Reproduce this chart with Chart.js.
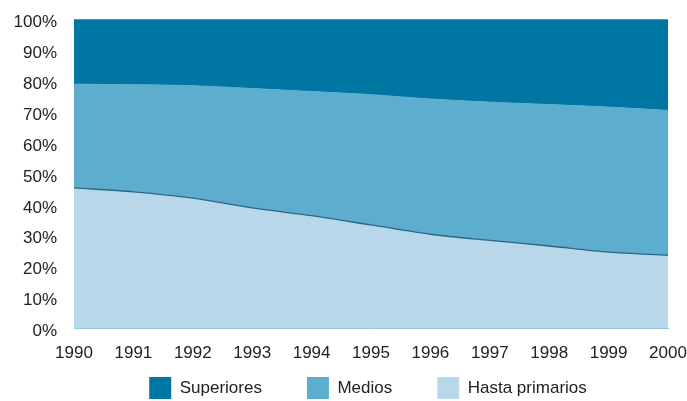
<!DOCTYPE html>
<html>
<head>
<meta charset="utf-8">
<script src="https://cdn.jsdelivr.net/npm/chart.js@4"></script>
<style>
  html, body { margin: 0; padding: 0; background: #fff; }
  #wrap { width: 687px; height: 401px; position: relative; }
</style>
</head>
<body>
<div id="wrap"><canvas id="chart"></canvas></div>
<script>
// años
const years = ['1990', '1991', '1992', '1993', '1994', '1995', '1996', '1997', '1998', '1999', '2000']
// % población por nivel educativo
const hastaPrimarios = [45.5, 44.2, 42.2, 39.0, 36.5, 33.5, 30.5, 28.5, 26.7, 24.7, 23.7]
const medios = [33.5, 34.6, 36.3, 38.6, 40.1, 42.1, 43.7, 44.7, 45.7, 46.9, 46.8]
const superiores = [21.0, 21.2, 21.5, 22.4, 23.4, 24.4, 25.8, 26.8, 27.6, 28.4, 29.5]
const yTicks = [0, 10, 20, 30, 40, 50, 60, 70, 80, 90, 100]

const font = { family: 'Liberation Sans, Arial, sans-serif', size: 17 }

// la leyenda va centrada bajo el área del gráfico, más pegada a los años
const legendShift = {
  id: 'legendShift',
  afterLayout(chart) {
    const lg = chart.legend
    const ca = chart.chartArea
    const dx = (ca.left + ca.right) / 2 - (lg.left + lg.right) / 2 - 3
    lg.left += dx
    lg.right += dx
    lg.top -= 41
  }
}

new Chart(document.getElementById('chart'), {
  type: 'line',
  data: {
    labels: years,
    datasets: [
      { label: 'Hasta primarios', data: hastaPrimarios, fill: 'origin', backgroundColor: '#b8d8ea', borderColor: '#2d6585', borderWidth: 1.3, pointRadius: 0, tension: 0.3 },
      { label: 'Medios', data: medios, fill: '-1', backgroundColor: '#5dadcf', borderColor: '#5dadcf', borderWidth: 1, pointRadius: 0, tension: 0.3 },
      { label: 'Superiores', data: superiores, fill: '-1', backgroundColor: '#0077a2', borderColor: '#0077a2', borderWidth: 1, pointRadius: 0, tension: 0 },
    ]
  },
  plugins: [legendShift],
  options: {
    responsive: true,
    maintainAspectRatio: false,
    animation: false,
    layout: { padding: { top: 10, right: 0, left: 0, bottom: 0 } },
    plugins: {
      legend: {
        position: 'bottom',
        reverse: true,
        maxHeight: 28,
        labels: {
          boxWidth: 22, boxHeight: 22, padding: 45, color: '#222', font: font,
          // cuadros sin borde
          generateLabels: chart => Chart.defaults.plugins.legend.labels.generateLabels(chart)
            .map(it => ({ ...it, lineWidth: 0, strokeStyle: it.fillStyle }))
        }
      },
      tooltip: { enabled: false }
    },
    scales: {
      x: {
        offset: false,
        afterFit: s => { s.paddingRight = 19 },
        grid: { display: false, drawTicks: true, tickLength: 6, color: '#9fd0e0' },
        border: { color: '#8cc7da' },
        ticks: { color: '#222', font: font, padding: 9, maxRotation: 0 }
      },
      y: {
        stacked: true,
        min: 0,
        max: 100,
        afterFit: s => { s.width = 74 },
        afterBuildTicks: axis => { axis.ticks = yTicks.map(v => ({ value: v })) },
        grid: { display: false },
        border: { color: '#8cc7da' },
        ticks: { color: '#222', font: font, padding: 9, labelOffset: 3, callback: v => v + '%' }
      }
    }
  }
})
</script>
</body>
</html>
